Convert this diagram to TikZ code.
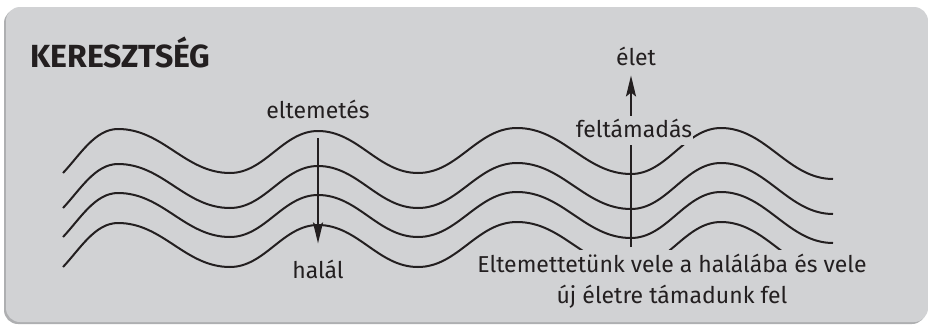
\documentclass[tikz,border=0pt]{standalone}
\usepackage{fontspec}
\setmainfont{Fira Sans}
\usetikzlibrary{arrows.meta,backgrounds}
\definecolor{panelszin}{HTML}{D1D2D4}
\definecolor{arnyek}{HTML}{AEAFB1}
\definecolor{tinta}{HTML}{231F20}
\begin{document}
\begin{tikzpicture}[x=1pt,y=-1pt,
        felirat/.style={fill=panelszin,text=tinta,inner sep=1pt,font=\fontsize{23}{31}\selectfont},
        hullam/.style={line width=2pt,tinta},
        nyil/.style={line width=2pt,tinta,-{Stealth[length=21pt,width=10pt,inset=4pt]}}]
        \useasboundingbox (0,0) rectangle (928,324);
        \node[anchor=base west,text=tinta,inner sep=0pt,font=\bfseries\fontsize{32}{32}\selectfont] (cim) at (30,67) {KERESZTSÉG};
        \node[felirat,anchor=base] (eltemetes) at (318,118) {eltemetés};
        \node[felirat,anchor=base] (halal) at (318,278) {halál};
        \node[felirat,anchor=base] (elet) at (636,65) {élet};
        \node[felirat,anchor=base,text height=20pt,text depth=7pt] (feltamadas) at (634,137) {feltámadás};
        \node[felirat,anchor=base,align=center,inner ysep=4pt] (szoveg) at (672,303) {Eltemettetünk vele a halálába és vele\\új életre támadunk fel};
        \coordinate (kereszt) at (631,247);
        \begin{scope}[on background layer]
            \fill[arnyek,rounded corners=14pt] (4,9) rectangle (926,324);
            \fill[panelszin,rounded corners=14pt] (6,7) rectangle (928,322);
            \foreach \dy in {0,35,64,94}
                \draw[hullam,shift={(0,\dy)}] (63,173) .. controls (80,155) and (95,129) .. (118,129)
                    .. controls (163,129) and (185,173) .. (230,173)
                    .. controls (265,173) and (283,131) .. (318,131)
                    .. controls (358,131) and (378,173) .. (418,173)
                    .. controls (458,173) and (477,128) .. (517,128)
                    .. controls (563,128) and (585,174) .. (631,174)
                    .. controls (667,174) and (685,128) .. (721,128)
                    .. controls (766,128) and (788,179) .. (833,179);
            \draw[nyil,shorten <=19pt,shorten >=15pt] (eltemetes) -- (halal);
            \draw[nyil,shorten >=9pt] (kereszt) -- (kereszt |- elet.south);
        \end{scope}
\end{tikzpicture}
\end{document}
